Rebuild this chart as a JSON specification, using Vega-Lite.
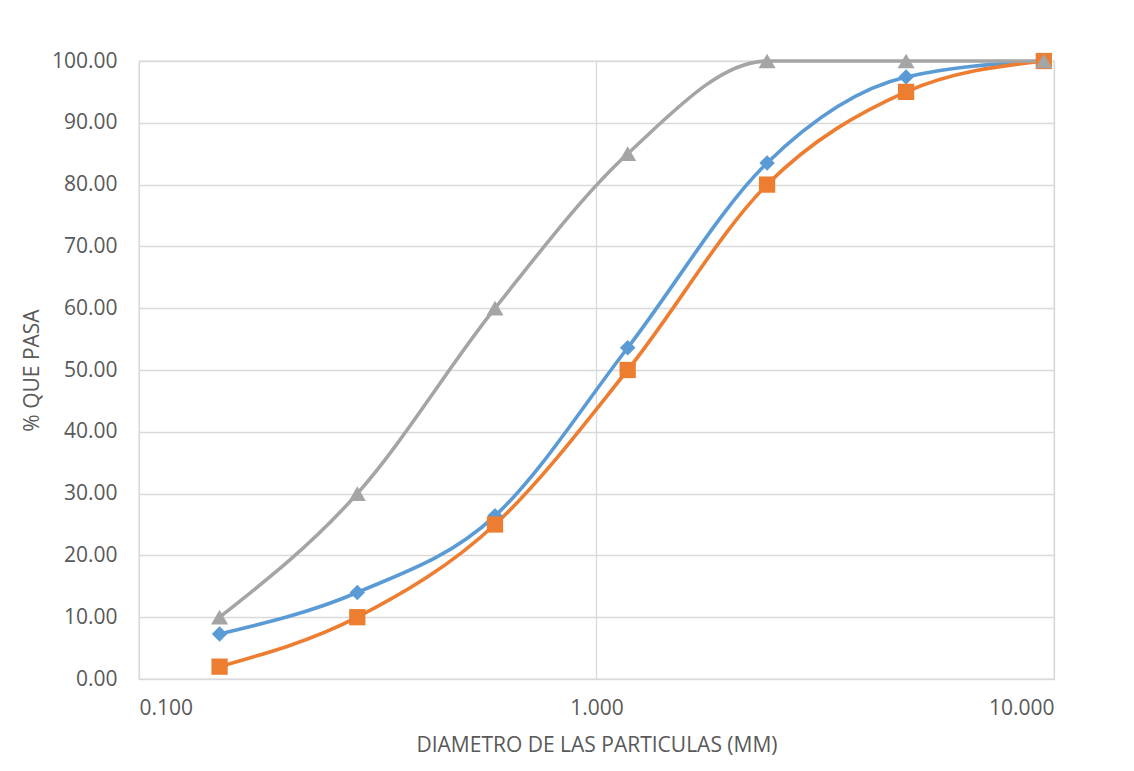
{
  "$schema": "https://vega.github.io/schema/vega-lite/v6.json",
  "width": 915,
  "height": 618,
  "autosize": {"type": "none"},
  "padding": {"left": 139, "top": 61, "right": 80, "bottom": 92},
  "background": "white",
  "config": {
    "font": "Open Sans",
    "view": {"stroke": "#D9D9D9", "strokeWidth": 1.3},
    "axis": {
      "labelFont": "Open Sans",
      "titleFont": "Open Sans",
      "labelColor": "#595959",
      "titleColor": "#595959",
      "labelFontSize": 21,
      "titleFontSize": 21,
      "titleFontWeight": "normal",
      "gridColor": "#D9D9D9",
      "gridWidth": 1.3,
      "ticks": false,
      "domain": false
    }
  },
  "data": {
    "values": [
      {"serie": "A", "d": 0.15, "p": 7.3},
      {"serie": "A", "d": 0.30, "p": 14.0},
      {"serie": "A", "d": 0.60, "p": 26.4},
      {"serie": "A", "d": 1.17, "p": 53.6},
      {"serie": "A", "d": 2.36, "p": 83.5},
      {"serie": "A", "d": 4.75, "p": 97.4},
      {"serie": "A", "d": 9.5, "p": 100.0},
      {"serie": "B", "d": 0.15, "p": 2.0},
      {"serie": "B", "d": 0.30, "p": 10.0},
      {"serie": "B", "d": 0.60, "p": 25.0},
      {"serie": "B", "d": 1.17, "p": 50.0},
      {"serie": "B", "d": 2.36, "p": 80.0},
      {"serie": "B", "d": 4.75, "p": 95.0},
      {"serie": "B", "d": 9.5, "p": 100.0},
      {"serie": "C", "d": 0.15, "p": 10.0},
      {"serie": "C", "d": 0.30, "p": 30.0},
      {"serie": "C", "d": 0.60, "p": 60.0},
      {"serie": "C", "d": 1.17, "p": 85.0},
      {"serie": "C", "d": 2.36, "p": 100.0},
      {"serie": "C", "d": 4.75, "p": 100.0},
      {"serie": "C", "d": 9.5, "p": 100.0}
    ]
  },
  "encoding": {
    "x": {
      "field": "d",
      "type": "quantitative",
      "scale": {"type": "log", "domain": [0.1, 10], "nice": false},
      "axis": {
        "values": [0.1, 1, 10],
        "format": ".3f",
        "title": "DIAMETRO DE LAS PARTICULAS (MM)",
        "labelPadding": 18,
        "titlePadding": 16
      }
    },
    "y": {
      "field": "p",
      "type": "quantitative",
      "scale": {"domain": [0, 100], "nice": false},
      "axis": {
        "values": [0, 10, 20, 30, 40, 50, 60, 70, 80, 90, 100],
        "format": ".2f",
        "title": "% QUE PASA",
        "labelPadding": 22,
        "titlePadding": 9
      }
    },
    "color": {
      "field": "serie",
      "type": "nominal",
      "scale": {"domain": ["A", "B", "C"], "range": ["#5B9BD5", "#ED7D31", "#A5A5A5"]},
      "legend": null
    }
  },
  "layer": [
    {"mark": {"type": "line", "interpolate": "monotone", "strokeWidth": 3.6}},
    {
      "mark": {"type": "point", "filled": true, "opacity": 1},
      "encoding": {
        "shape": {
          "field": "serie",
          "type": "nominal",
          "scale": {"domain": ["A", "B", "C"], "range": ["diamond", "square", "triangle-up"]},
          "legend": null
        },
        "size": {
          "field": "serie",
          "type": "nominal",
          "scale": {"domain": ["A", "B", "C"], "range": [240, 290, 300]},
          "legend": null
        }
      }
    }
  ]
}
